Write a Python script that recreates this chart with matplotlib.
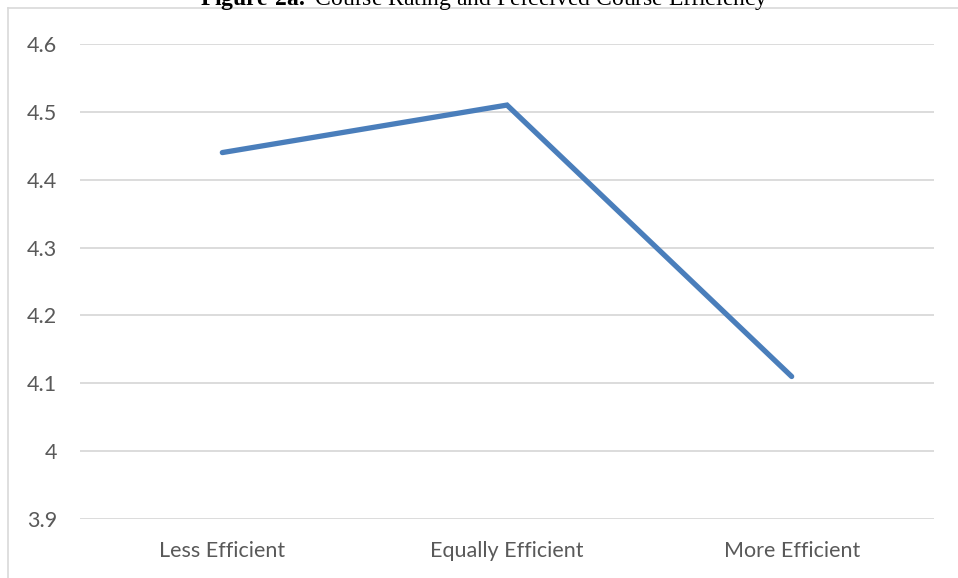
import matplotlib
matplotlib.use("Agg")
import matplotlib.pyplot as plt
from matplotlib.lines import Line2D

plt.rcParams["mathtext.fontset"] = "custom"
plt.rcParams["mathtext.rm"] = "Liberation Serif"
plt.rcParams["mathtext.bf"] = "Liberation Serif:bold"

categories = ["Less Efficient", "Equally Efficient", "More Efficient"]
ratings = [4.44, 4.51, 4.11]
y_ticks = [3.9, 4.0, 4.1, 4.2, 4.3, 4.4, 4.5, 4.6]
y_tick_labels = ["3.9", "4", "4.1", "4.2", "4.3", "4.4", "4.5", "4.6"]

W, H = 958, 578
fig = plt.figure(figsize=(W / 100, H / 100), dpi=100)
ax = fig.add_axes([80 / W, 1 - 519 / H, (934 - 80) / W, (519 - 44) / H])

x = list(range(len(categories)))
ax.plot(x, ratings, color="#4a7ebb", linewidth=3.8, solid_capstyle="round",
        solid_joinstyle="miter", zorder=3)

ax.set_xlim(-0.5, len(categories) - 0.5)
ax.set_ylim(3.9, 4.6)
ax.set_yticks(y_ticks)
ax.set_yticklabels(y_tick_labels)
ax.set_xticks(x)
ax.set_xticklabels(categories)

ax.grid(axis="y", color="#d9d9d9", linewidth=1.3)
ax.set_axisbelow(True)
for side in ["top", "right", "left", "bottom"]:
    ax.spines[side].set_visible(False)
ax.tick_params(axis="both", length=0, labelsize=15.5, labelcolor="#595959")
ax.tick_params(axis="y", pad=16.5)
ax.tick_params(axis="x", pad=16)
for lbl in ax.get_xticklabels() + ax.get_yticklabels():
    lbl.set_fontfamily("Lato")

# chart-area frame: left and top edges
fig.add_artist(Line2D([8 / W, 8 / W], [0, 1 - 8 / H], transform=fig.transFigure,
                      color="#d9d9d9", linewidth=1.2))
fig.add_artist(Line2D([8 / W, 1], [1 - 8 / H, 1 - 8 / H], transform=fig.transFigure,
                      color="#d9d9d9", linewidth=1.2))

# caption
fig.text(484 / W, 1 - 5 / H, r"$\mathbf{Figure\ 2a.}$ Course Rating and Perceived Course Efficiency",
         ha="center", va="baseline", fontsize=17, family="Liberation Serif")

fig.savefig("out.png", dpi=100)
